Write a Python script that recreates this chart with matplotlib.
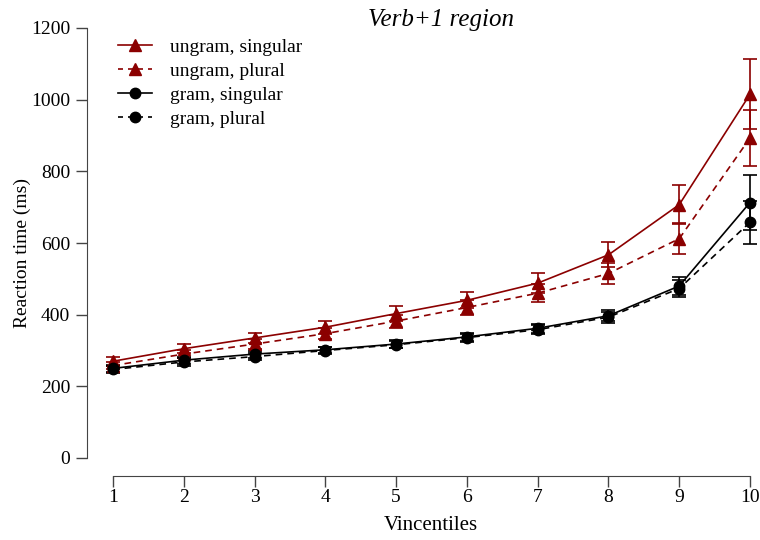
import matplotlib
matplotlib.use("Agg")
import matplotlib.pyplot as plt
from matplotlib.lines import Line2D

vincentiles = [1, 2, 3, 4, 5, 6, 7, 8, 9, 10]
ungram_sg = [270, 305, 335, 365, 403, 440, 488, 567, 707, 1015]
ungram_sg_err = [12, 13, 15, 18, 20, 22, 28, 35, 55, 98]
ungram_pl = [258, 290, 318, 347, 382, 420, 460, 515, 612, 893]
ungram_pl_err = [11, 12, 14, 16, 18, 20, 25, 30, 44, 78]
gram_sg = [250, 273, 290, 302, 318, 338, 362, 397, 480, 713]
gram_sg_err = [9, 10, 10, 9, 10, 11, 12, 15, 25, 77]
gram_pl = [247, 268, 283, 300, 316, 336, 358, 393, 473, 658]
gram_pl_err = [9, 10, 10, 9, 10, 11, 12, 15, 25, 60]
yticks = [0, 200, 400, 600, 800, 1000, 1200]

plt.rcParams['font.family'] = ['Liberation Serif', 'DejaVu Serif']

W, H = 760, 540
fig = plt.figure(figsize=(7.6, 5.4), dpi=100)
left, right, bottom, top = 87, 775, 476, 11
ax = fig.add_axes([left / W, 1 - bottom / H, (right - left) / W, (bottom - top) / H])

red = '#8B0000'
series = [
    (ungram_sg, ungram_sg_err, red, '-', '^', 'ungram, singular'),
    (ungram_pl, ungram_pl_err, red, '--', '^', 'ungram, plural'),
    (gram_sg, gram_sg_err, 'black', '-', 'o', 'gram, singular'),
    (gram_pl, gram_pl_err, 'black', '--', 'o', 'gram, plural'),
]
for y, e, c, ls, m, lab in series:
    ax.errorbar(vincentiles, y, yerr=e, color=c, ls=ls, lw=1.2, marker=m,
                ms=8 if m == '^' else 7.5, capsize=5, capthick=1.2, elinewidth=1.2,
                dashes=(4, 3) if ls == '--' else (None, None), label=lab)

# x: 1 at px 113, 10 at px 750
ppu = (750 - 113) / 9
ax.set_xlim(1 - (113 - left) / ppu, 10 + (right - 750) / ppu)
ppy = (458 - 28) / 1200
ax.set_ylim(-(bottom - 458) / ppy, 1200 + (28 - top) / ppy)

ax.set_xticks(vincentiles)
ax.set_yticks(yticks)
ax.tick_params(axis='both', direction='out', length=8, width=1, labelsize=14, color='#444444')
ax.tick_params(axis='x', pad=1)
ax.tick_params(axis='y', pad=4)
for s in ['top', 'right']:
    ax.spines[s].set_visible(False)
ax.spines['bottom'].set_bounds(1, 10)
ax.spines['left'].set_bounds(0, 1200)
ax.spines['bottom'].set_color('#444444')
ax.spines['left'].set_color('#444444')

fig.text(431 / W, 1 - 526 / H, 'Vincentiles', ha='center', va='center', fontsize=15)
fig.text(22 / W, 1 - 253 / H, 'Reaction time (ms)', rotation=90, ha='center', va='center',
         fontsize=14)
fig.text(441 / W, 1 - 20 / H, 'Verb+1 region', ha='center', va='center',
         fontsize=18, style='italic')

handles = [
    Line2D([], [], color=red, ls='-', marker='^', ms=8, lw=1.2),
    Line2D([], [], color=red, ls='--', marker='^', ms=8, lw=1.2, dashes=(3, 3)),
    Line2D([], [], color='black', ls='-', marker='o', ms=7.5, lw=1.2),
    Line2D([], [], color='black', ls='--', marker='o', ms=7.5, lw=1.2, dashes=(3, 3)),
]
labels = ['ungram, singular', 'ungram, plural', 'gram, singular', 'gram, plural']
ax.legend(handles, labels, loc='upper left', bbox_to_anchor=(118 / W, 1 - 38 / H),
          bbox_transform=fig.transFigure, frameon=False, fontsize=14,
          borderpad=0, borderaxespad=0,
          handlelength=1.75, handletextpad=0.9, labelspacing=0.34)

fig.savefig('out.png', dpi=100)
